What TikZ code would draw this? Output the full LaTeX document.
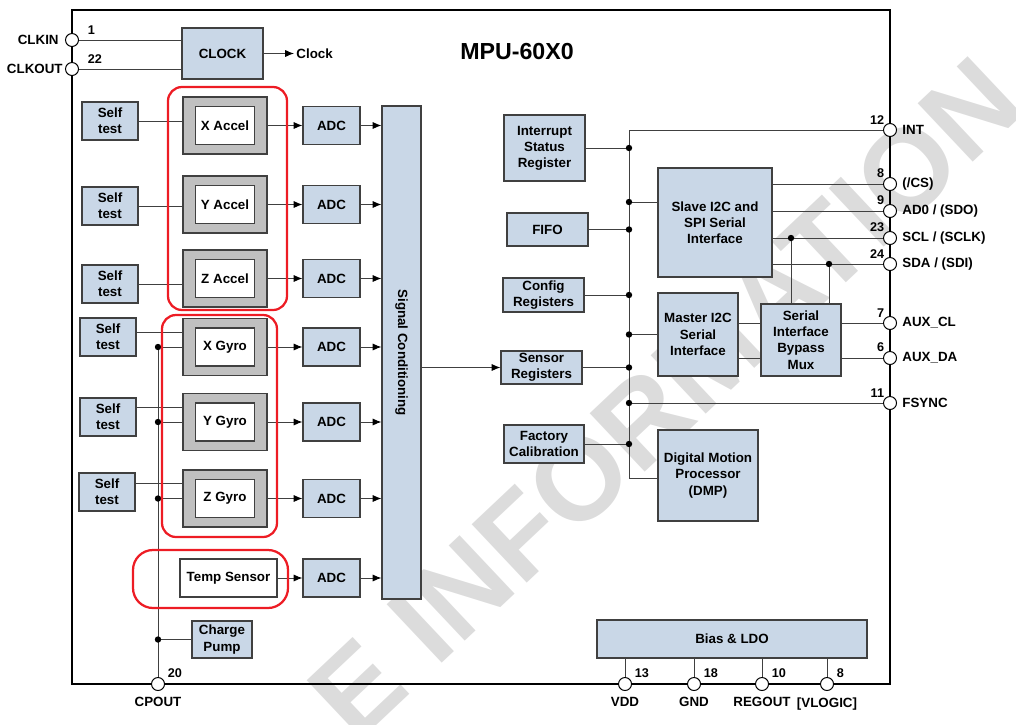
\documentclass[tikz,border=0pt]{standalone}
\usepackage{fontspec}
\setmainfont{Liberation Sans}
\usetikzlibrary{arrows.meta,positioning}
\definecolor{blockblue}{RGB}{201,215,231}
\definecolor{sensgray}{RGB}{192,192,192}
\definecolor{linegray}{RGB}{64,64,64}
\definecolor{groupred}{RGB}{237,28,36}
\definecolor{wmgray}{RGB}{220,220,220}

\begin{document}
\begin{tikzpicture}[x=0.25mm, y=-0.25mm,
    block/.style={rectangle, draw=linegray, fill=blockblue, line width=0.8pt, align=center, inner sep=1pt, font=\fontsize{9.5}{11.5}\selectfont\bfseries},
    selftest/.style={block, minimum width=14mm, minimum height=9.5mm},
    adc/.style={block, minimum width=14.25mm, minimum height=9.5mm},
    sensor/.style={rectangle, draw=linegray, fill=sensgray, line width=0.8pt, minimum width=21mm, minimum height=14.25mm},
    sensorin/.style={block, fill=white, minimum width=14.75mm, minimum height=9.5mm},
    regbox/.style={block, minimum width=20.25mm},
    pinpad/.style={circle, draw=black, fill=white, line width=0.7pt, minimum size=3.25mm, inner sep=0pt},
    pinlbl/.style={font=\fontsize{9.5}{11}\selectfont\bfseries, inner sep=1.5pt},
    pinnum/.style={font=\fontsize{9}{10}\selectfont\bfseries, inner sep=0.5pt},
    wire/.style={draw=linegray, line width=0.7pt},
    arrow/.style={wire, -{Latex[length=2.2mm,width=1.8mm,color=black]}},
    grp/.style={draw=groupred, line width=1.6pt, rounded corners=3.5mm}
]
\useasboundingbox (0,0) rectangle (1016,724);
\node[rotate=43.3, text=wmgray, font=\fontsize{83}{90}\selectfont\bfseries] (wm) at (665,398) {E INFORMATION};

% chip and pins
\node[draw=black, line width=0.8pt, minimum width=204.5mm, minimum height=168.5mm, inner sep=0pt] (chip) at (481,347) {};
\node[font=\fontsize{16.5}{18}\selectfont\bfseries] (title) at (517,52) {MPU-60X0};

\node[pinpad] (p-clkin) at (72,40) {};
\node[pinpad] (p-clkout) at (72,69) {};
\node[pinlbl, anchor=east] (l-clkin) at ([xshift=-1mm]p-clkin.west) {CLKIN};
\node[pinlbl, anchor=east] (l-clkout) at (p-clkout.west) {CLKOUT};
\node[pinnum, anchor=south west] (n-clkin) at ([xshift=2.5mm]p-clkin.north east) {1};
\node[pinnum, anchor=south west] (n-clkout) at ([xshift=2.5mm]p-clkout.north east) {22};

\foreach \yy/\num/\lab/\nm in {130/12/INT/int, 184/8/{(/CS)}/cs, 211/9/{AD0 / (SDO)}/ado, 238/23/{SCL / (SCLK)}/scl, 264/24/{SDA / (SDI)}/sda, 323/7/AUX\_CL/auxcl, 358/6/AUX\_DA/auxda, 403/11/FSYNC/fsync}{
  \node[pinpad] (p-\nm) at (890,\yy) {};
  \node[pinlbl, anchor=west] (l-\nm) at ([xshift=0.75mm]p-\nm.east) {\lab};
  \node[pinnum, anchor=south east] (n-\nm) at (p-\nm.north west) {\num};
}
\foreach \xx/\num/\lab/\nm in {158/20/CPOUT/cpout, 625/13/VDD/vdd, 694/18/GND/gnd, 762/10/REGOUT/regout, 827/8/{[VLOGIC]}/vlogic}{
  \node[pinpad] (p-\nm) at (\xx,684) {};
  \node[pinlbl, anchor=north] (l-\nm) at ([yshift=-1mm]p-\nm.south) {\lab};
  \node[pinnum, anchor=south west] (n-\nm) at ([xshift=1mm]p-\nm.north east) {\num};
}

% clock
\node[block, minimum width=20.25mm, minimum height=12.75mm] (clock) at (222.5,53.5) {CLOCK};
\node[pinlbl, anchor=west] (clk) at (294,53.5) {Clock};
\draw[arrow] (clock) -- (clk);
\draw[wire] (p-clkin) -- (p-clkin -| clock.west);
\draw[wire] (p-clkout) -- (p-clkout -| clock.west);

% sensors
\node[block, minimum width=9.75mm, minimum height=123.25mm] (sc) at (401.5,352.5) {};
\node[rotate=-90, font=\fontsize{9.5}{11.5}\selectfont\bfseries] (sc-txt) at (sc) {Signal Conditioning};

\foreach \nm/\xx/\yy in {st1/110/121, st2/110/206, st3/110/284, st4/108/337, st5/108/417, st6/107/492}
  \node[selftest] (\nm) at (\xx,\yy) {Self\\test};

\foreach \nm/\yy/\lab in {xacc/125.5/X Accel, yacc/204.5/Y Accel, zacc/278.5/Z Accel, xgy/347/X Gyro, ygy/422/Y Gyro, zgy/498.5/Z Gyro}{
  \node[sensor] (\nm) at (225,\yy) {};
  \node[sensorin] (\nm-in) at (\nm) {\lab};
}
\node[sensorin, minimum width=24.25mm] (temp) at (228.5,578) {Temp Sensor};
\node[block, minimum width=15mm, minimum height=9.25mm] (cp) at (222,639.5) {Charge\\Pump};

\coordinate (adcx) at (331.5,0);
\foreach \i/\src in {1/xacc, 2/yacc, 3/zacc, 4/xgy, 5/ygy, 6/zgy, 7/temp}{
  \node[adc] (adc\i) at (\src.east -| adcx) {ADC};
  \draw[arrow] (\src.east) -- (adc\i.west);
  \draw[arrow] (adc\i.east) -- (adc\i.east -| sc.west);
}

\foreach \st/\s in {st1/xacc, st2/yacc, st3/zacc}
  \draw[wire] (\st.east) -- (\st.east -| \s.west);

\draw[wire] (xgy.west -| p-cpout) -- (p-cpout);
\foreach \st/\g in {st4/xgy, st5/ygy, st6/zgy}{
  \coordinate (\g-st) at ([yshift=3.75mm]\g.west);
  \draw[wire] (\g-st -| \st.east) -- (\g-st);
  \draw[wire] (\g.west -| p-cpout) -- (\g.west);
  \fill (\g.west -| p-cpout) circle (0.8mm);
}
\draw[wire] (cp.west -| p-cpout) -- (cp.west);
\fill (cp.west -| p-cpout) circle (0.8mm);

% digital side
\node[regbox, minimum height=16.5mm] (isr) at (544.5,148) {Interrupt\\Status\\Register};
\node[regbox, minimum height=8.25mm] (fifo) at (547.5,229.5) {FIFO};
\node[regbox, minimum height=8.5mm] (cfg) at (543.5,295) {Config\\Registers};
\node[regbox, minimum height=8.25mm] (sreg) at (541.5,367.5) {Sensor\\Registers};
\node[regbox, minimum width=20mm, minimum height=9.5mm] (fcal) at (544,444) {Factory\\Calibration};

\node[block, minimum width=28.5mm, minimum height=27.25mm] (slave) at (715,222.5) {Slave I2C and\\SPI Serial\\Interface};
\node[block, minimum width=20mm, minimum height=20.75mm] (master) at (698,334.5) {Master I2C\\Serial\\Interface};
\node[block, minimum width=20mm, minimum height=18mm] (mux) at (801,340) {Serial\\Interface\\Bypass\\Mux};
\node[block, minimum width=25mm, minimum height=22.75mm] (dmp) at (708,475.5) {Digital Motion\\Processor\\(DMP)};
\node[block, minimum width=67.5mm, minimum height=9.5mm] (bias) at (732,639) {Bias \& LDO};

\draw[arrow] (sc.east |- sreg) -- (sreg.west);

\coordinate (bus-top) at (629,130);
\coordinate (bus-bot) at (629,478);
\coordinate (j-slave) at (629,202);
\draw[wire] (p-int) -- (bus-top) -- (bus-bot) -- (bus-bot -| dmp.west);
\foreach \nm in {isr, fifo, cfg, sreg, fcal}{
  \draw[wire] (\nm.east) -- (\nm.east -| bus-top);
  \fill (\nm.east -| bus-top) circle (0.8mm);
}
\draw[wire] (j-slave) -- (j-slave -| slave.west);
\fill (j-slave) circle (0.8mm);
\draw[wire] (master.west -| bus-top) -- (master.west);
\fill (master.west -| bus-top) circle (0.8mm);
\draw[wire] (p-fsync -| bus-top) -- (p-fsync);
\fill (p-fsync -| bus-top) circle (0.8mm);

\foreach \nm in {cs, ado, scl, sda}
  \draw[wire] (slave.east |- p-\nm) -- (p-\nm);
\coordinate (j-scl) at (791,238);
\coordinate (j-sda) at (829,264);
\foreach \j in {j-scl, j-sda}{
  \draw[wire] (\j) -- (\j |- mux.north);
  \fill (\j) circle (0.8mm);
}
\draw[wire] (master.east |- p-auxcl) -- (mux.west |- p-auxcl);
\draw[wire] (master.east |- p-auxda) -- (mux.west |- p-auxda);
\draw[wire] (mux.east |- p-auxcl) -- (p-auxcl);
\draw[wire] (mux.east |- p-auxda) -- (p-auxda);

\foreach \nm in {vdd, gnd, regout, vlogic}
  \draw[wire] (p-\nm |- bias.south) -- (p-\nm);

% red groups
\draw[grp] (168,87) rectangle (287,310);
\draw[grp] (162,315) rectangle (277,537);
\draw[grp, rounded corners=5mm] (133,550) rectangle (288,608);
\end{tikzpicture}
\end{document}
